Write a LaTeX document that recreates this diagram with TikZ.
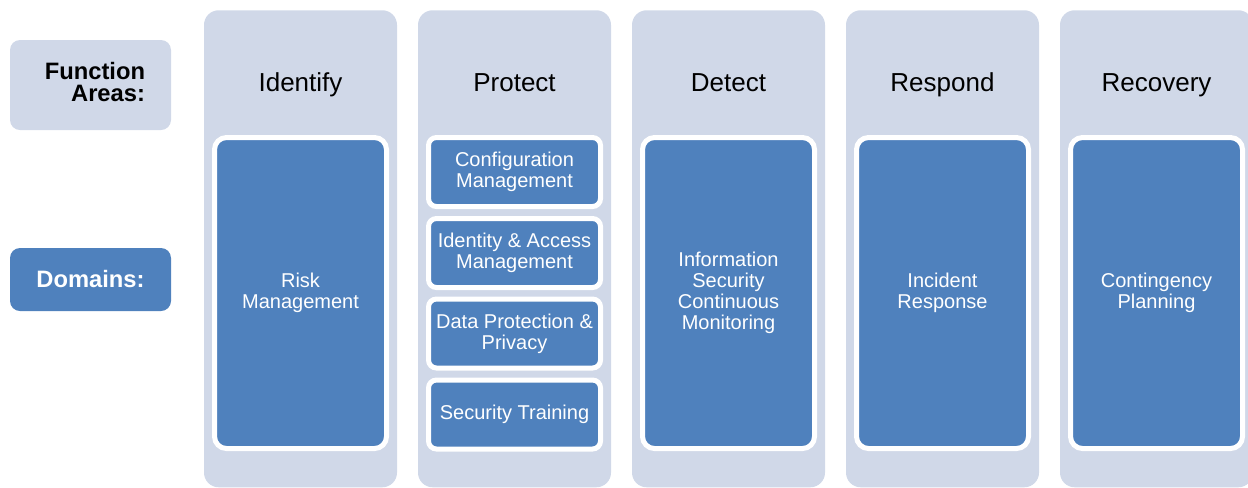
\documentclass[tikz,border=0pt]{standalone}
\usepackage{fontspec}
\setmainfont{Liberation Sans}
\definecolor{areabg}{HTML}{D0D8E8}
\definecolor{domainblue}{HTML}{4F81BD}
\tikzset{%
  area/.style={fill=areabg,rounded corners=11pt,anchor=north,inner sep=0pt,
    minimum width=144.75pt,minimum height=357.75pt},%
  areahead/.style={anchor=base,font=\fontsize{19.5}{22}\selectfont},%
  domainbox/.style={fill=domainblue,draw=white,line width=3.75pt,text=white,
    rounded corners=9pt,align=center,minimum width=129pt,inner sep=2pt,
    font=\fontsize{15}{15.75}\selectfont},%
  subbox/.style={domainbox,rounded corners=6pt,minimum height=51.75pt},%
  tallbox/.style={domainbox,minimum height=233.25pt}%
}

\begin{document}
\begin{tikzpicture}[x=0.75pt,y=-0.75pt]
      \useasboundingbox (0,0) rectangle (1248,487);
      % row labels
      \node[fill=areabg,rounded corners=7.5pt,minimum width=120.75pt,
        minimum height=67.5pt,inner sep=0pt] (funcbox) at (90.5,85) {};
      \node[text width=81.75pt,align=right,inner sep=0pt,
        font=\bfseries\fontsize{17.8}{16.5}\selectfont] (funclabel) at (90.5,82)
        {Function\\Areas:};
      \node[fill=domainblue,rounded corners=7.5pt,minimum width=120.75pt,
        minimum height=47.25pt,text=white,
        font=\bfseries\fontsize{17.8}{20}\selectfont] (domlabel) at (90.5,279.5)
        {Domains:};
      % function areas
      \node[area] (identify) at (300.5,10) {};
      \node[area] (protect) at (514.5,10) {};
      \node[area] (detect) at (728.5,10) {};
      \node[area] (respond) at (942.5,10) {};
      \node[area] (recovery) at (1156.5,10) {};
      \node[areahead] (identifyhead) at (300.5,91) {Identify};
      \node[areahead] (protecthead) at (514.5,91) {Protect};
      \node[areahead] (detecthead) at (728.5,91) {Detect};
      \node[areahead] (respondhead) at (942.5,91) {Respond};
      \node[areahead] (recoveryhead) at (1156.5,91) {Recovery};
      % domains
      \node[tallbox] (riskmgmt) at (300.5,293) {Risk\\Management};
      \node[subbox] (configmgmt) at (514.5,172) {Configuration\\Management};
      \node[subbox] (accessmgmt) at (514.5,253) {Identity \& Access\\Management};
      \node[subbox] (dataprot) at (514.5,333.5) {Data Protection \&\\Privacy};
      \node[subbox] (sectraining) at (514.5,414.5) {Security Training};
      \node[tallbox] (monitoring) at (728.5,293)
      {Information\\Security\\Continuous\\Monitoring};
      \node[tallbox] (incident) at (942.5,293) {Incident\\Response};
      \node[tallbox] (contingency) at (1156.5,293) {Contingency\\Planning};
    \end{tikzpicture}
\end{document}
